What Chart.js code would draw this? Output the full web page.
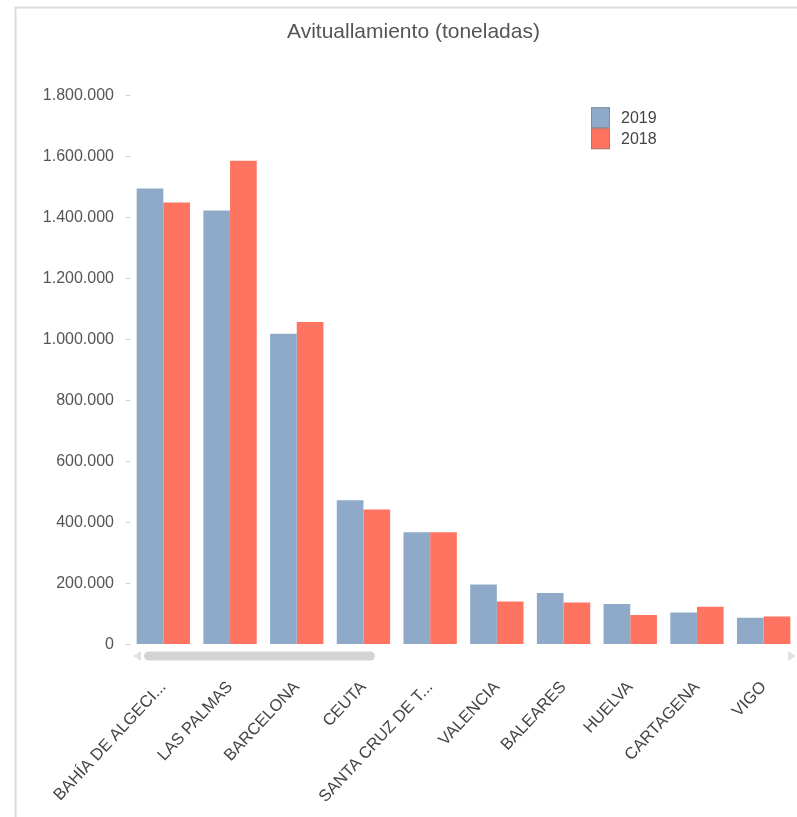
<!DOCTYPE html>
<html><head><meta charset="utf-8">
<script src="https://cdn.jsdelivr.net/npm/chart.js@4/dist/chart.umd.min.js"></script>
<style>html,body{margin:0;padding:0;background:#fff;overflow:hidden}
#wrap{position:absolute;left:0;top:0;width:797px;height:817px}</style>
</head><body><div id="wrap"><canvas id="c" width="797" height="817"></canvas></div>
<script>
const categories = ['BAHÍA DE ALGECI...','LAS PALMAS','BARCELONA','CEUTA','SANTA CRUZ DE T...','VALENCIA','BALEARES','HUELVA','CARTAGENA','VIGO'];
const seriesLabels = ['2019','2018'];
const values2019 = [1494000,1422000,1018000,473000,368000,197000,169000,133000,105000,88000];
const values2018 = [1448000,1585000,1057000,442000,368000,141000,138000,97000,124000,92000];
const yTickValues = [0,200000,400000,600000,800000,1000000,1200000,1400000,1600000,1800000];
const yTickLabels = ['0','200.000','400.000','600.000','800.000','1.000.000','1.200.000','1.400.000','1.600.000','1.800.000'];
const colors = ['#8FAAC9','#FF7361'];
const FONT = 'Liberation Sans, Arial, sans-serif';

const decor = {
  id:'decor',
  beforeDraw(chart){
    const c = chart.ctx;
    c.save();
    c.strokeStyle = '#dcdcdc'; c.lineWidth = 2;
    c.beginPath(); c.moveTo(15.5, 817); c.lineTo(15.5, 7.5); c.lineTo(797, 7.5); c.stroke();
    c.restore();
  },
  afterDraw(chart){
    const c = chart.ctx, a = chart.chartArea;
    c.save();
    // scrollbar
    const sy = a.bottom + 7;
    c.fillStyle = '#d4d4d4';
    const x0 = a.left + 14, x1 = a.left + 245, h = 9, r = 4.5;
    c.beginPath();
    c.moveTo(x0 + r, sy); c.lineTo(x1 - r, sy); c.arc(x1 - r, sy + r, r, -Math.PI/2, Math.PI/2);
    c.lineTo(x0 + r, sy + h); c.arc(x0 + r, sy + r, r, Math.PI/2, Math.PI*1.5); c.fill();
    c.fillStyle = '#e2e2e2';
    c.beginPath(); c.moveTo(a.left + 3, sy + 4.5); c.lineTo(a.left + 11, sy - 0.5); c.lineTo(a.left + 11, sy + 9.5); c.fill();
    c.beginPath(); c.moveTo(a.right - 1, sy + 4.5); c.lineTo(a.right - 9, sy - 0.5); c.lineTo(a.right - 9, sy + 9.5); c.fill();
    // legend
    const lx = a.left + 461, ly = a.top + 12, bw = 19, bh = 21;
    chart.data.datasets.forEach((ds, i) => {
      const y = ly + i * bh;
      c.fillStyle = ds.backgroundColor;
      c.fillRect(lx, y, bw, bh);
      c.strokeStyle = 'rgba(120,120,120,0.6)'; c.lineWidth = 1;
      c.strokeRect(lx + 0.5, y + 0.5, bw - 1, bh - 1);
      c.fillStyle = '#444'; c.font = '16px ' + FONT; c.textBaseline = 'middle'; c.textAlign = 'left';
      c.fillText(ds.label, lx + 30, y + bh / 2 + 1);
    });
    c.restore();
  }
};

new Chart(document.getElementById('c'), {
  type:'bar',
  data:{
    labels: categories,
    datasets:[
      {label: seriesLabels[0], data: values2019, backgroundColor: colors[0], categoryPercentage:0.8, barPercentage:1.0},
      {label: seriesLabels[1], data: values2018, backgroundColor: colors[1], categoryPercentage:0.8, barPercentage:1.0}
    ]
  },
  options:{
    responsive:false, animation:false,
    layout:{padding:{left:30,right:0,top:0,bottom:0}},
    plugins:{
      legend:{display:false}, tooltip:{enabled:false},
      title:{display:true, text:'Avituallamiento (toneladas)', color:'#555', font:{family:FONT, size:21, weight:'normal'}, padding:{top:20, bottom:50}}
    },
    scales:{
      x:{
        grid:{display:false, drawTicks:false}, border:{display:false},
        ticks:{color:'#444', font:{family:FONT, size:16.5}, maxRotation:47, minRotation:47, padding:33, autoSkip:false},
        afterFit(s){ s.height = 172.5; s.paddingRight = 0; s.paddingLeft = 0; }
      },
      y:{
        min:0, max:1800000,
        afterBuildTicks(s){ s.ticks = yTickValues.map(v => ({value:v})); },
        ticks:{color:'#555', font:{family:FONT, size:16}, padding:12,
          callback(v){ const i = yTickValues.indexOf(v); return i >= 0 ? yTickLabels[i] : ''; }},
        grid:{drawOnChartArea:false, tickLength:4, color:'#cfcfcf'},
        border:{display:false},
        afterFit(s){ s.width = 100; }
      }
    }
  },
  plugins:[decor]
});
</script>
</body></html>
